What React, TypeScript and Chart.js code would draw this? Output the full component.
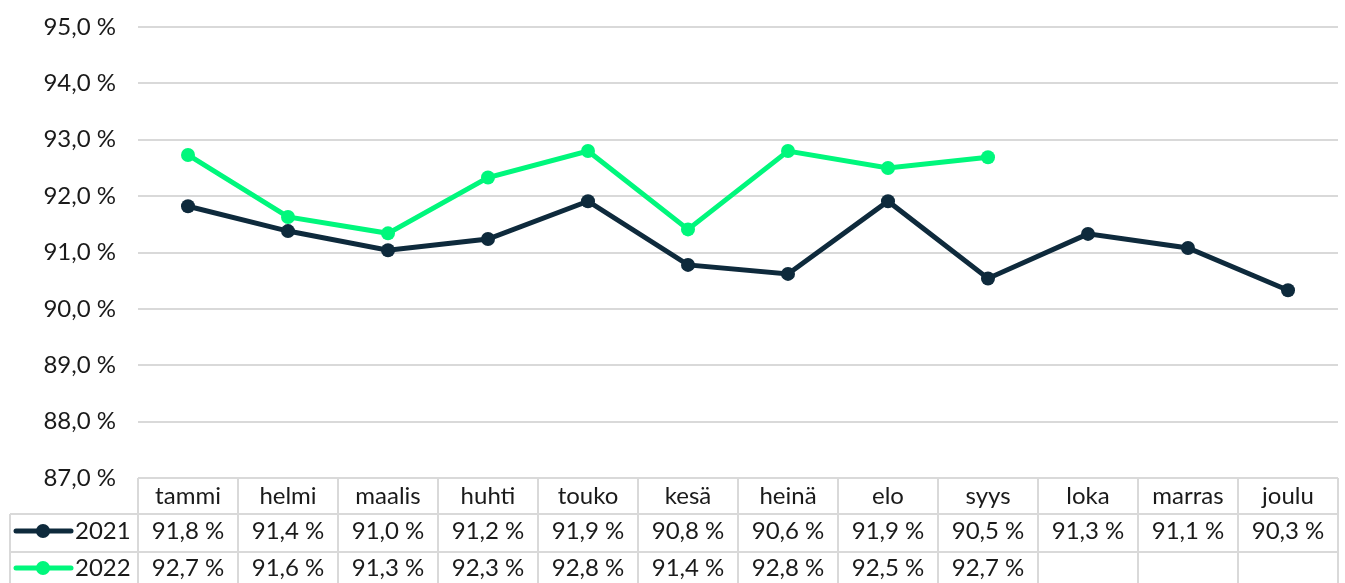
import React, { useEffect, useRef } from "react";
import { Chart, registerables } from "chart.js";
Chart.register(...registerables);

const months = ["tammi", "helmi", "maalis", "huhti", "touko", "kesä", "heinä", "elo", "syys", "loka", "marras", "joulu"];
const values2021 = [91.82, 91.38, 91.04, 91.24, 91.91, 90.78, 90.62, 91.91, 90.54, 91.33, 91.08, 90.33];
const values2022 = [92.73, 91.63, 91.34, 92.33, 92.8, 91.41, 92.8, 92.5, 92.69, null, null, null];
const seriesLabels = ["2021", "2022"];
const yMin = 87;
const yMax = 95;
const yStep = 1;

const COLOR_2021 = "#0e2a3c";
const COLOR_2022 = "#00f77c";
const GRID = "#d9d9d9";
const TEXT = "#1a1a1a";
const FONT = "Lato";
const FONT_SIZE = 24;

const fmt = (v: number) => v.toFixed(1).replace(".", ",") + " %";

const tablePlugin = {
  id: "dataTable",
  afterDraw(chart: any) {
    const ctx = chart.ctx as CanvasRenderingContext2D;
    const area = chart.chartArea;
    const xScale = chart.scales.x;
    const n = months.length;
    const cellW = (area.right - area.left) / n;
    const top = area.bottom;
    const rowH = [36, 38, 38];
    const legendLeft = 10;
    ctx.save();
    ctx.strokeStyle = GRID;
    ctx.lineWidth = 2;
    const y0 = top;
    const y1 = y0 + rowH[0];
    const y2 = y1 + rowH[1];
    const y3 = y2 + rowH[2];
    const line = (ax: number, ay: number, bx: number, by: number) => {
      ctx.beginPath();
      ctx.moveTo(ax, ay);
      ctx.lineTo(bx, by);
      ctx.stroke();
    };
    line(area.left, y0, area.right, y0);
    line(legendLeft, y1, area.right, y1);
    line(legendLeft, y2, area.right, y2);
    line(legendLeft, y3, area.right, y3);
    line(legendLeft, y1, legendLeft, y3);
    for (let i = 0; i <= n; i++) {
      const x = area.left + i * cellW;
      line(x, y0, x, y3);
    }
    ctx.fillStyle = TEXT;
    ctx.font = `${FONT_SIZE}px ${FONT}`;
    ctx.textAlign = "center";
    ctx.textBaseline = "middle";
    const series = [values2021, values2022];
    const rowCy = [(y1 + y2) / 2 - 2, (y2 + y3) / 2 - 3];
    for (let i = 0; i < n; i++) {
      const cx = xScale.getPixelForValue(i);
      ctx.fillText(months[i], cx, (y0 + y1) / 2);
      series.forEach((vals, r) => {
        const v = vals[i];
        if (v !== null && v !== undefined) {
          ctx.fillText(fmt(v as number), cx, rowCy[r]);
        }
      });
    }
    const colors = [COLOR_2021, COLOR_2022];
    seriesLabels.forEach((lab, r) => {
      const cy = rowCy[r];
      ctx.strokeStyle = colors[r];
      ctx.lineWidth = 5;
      ctx.lineCap = "round";
      line(16, cy, 71, cy);
      ctx.fillStyle = colors[r];
      ctx.beginPath();
      ctx.arc(43, cy, 7, 0, Math.PI * 2);
      ctx.fill();
      ctx.fillStyle = TEXT;
      ctx.textAlign = "left";
      ctx.fillText(lab, 75, cy);
    });
    ctx.restore();
  },
};

export default function App() {
  const ref = useRef<HTMLCanvasElement | null>(null);
  useEffect(() => {
    document.body.style.margin = "0";
    if (!ref.current) return;
    const chart = new Chart(ref.current, {
      type: "line",
      data: {
        labels: months,
        datasets: [
          {
            label: seriesLabels[0],
            data: values2021,
            borderColor: COLOR_2021,
            backgroundColor: COLOR_2021,
            borderWidth: 5,
            pointRadius: 7,
            pointHoverRadius: 7,
            pointBorderWidth: 0,
            tension: 0,
          },
          {
            label: seriesLabels[1],
            data: values2022,
            borderColor: COLOR_2022,
            backgroundColor: COLOR_2022,
            borderWidth: 5,
            pointRadius: 7,
            pointHoverRadius: 7,
            pointBorderWidth: 0,
            tension: 0,
          },
        ],
      },
      options: {
        animation: false,
        responsive: true,
        maintainAspectRatio: false,
        layout: { padding: { top: 27, right: 7, left: 0, bottom: 0 } },
        plugins: { legend: { display: false }, tooltip: { enabled: false } },
        scales: {
          x: {
            offset: true,
            ticks: { display: false },
            grid: { display: false },
            border: { display: false },
            afterFit: (s: any) => {
              s.height = 105;
              s.paddingLeft = 0;
              s.paddingRight = 0;
            },
          },
          y: {
            min: yMin,
            max: yMax,
            ticks: {
              stepSize: yStep,
              padding: 22,
              color: TEXT,
              font: { family: FONT, size: FONT_SIZE },
              callback: (v: any) => fmt(Number(v)),
            },
            grid: { color: GRID, lineWidth: 2, drawTicks: false },
            border: { display: false },
            afterFit: (s: any) => {
              s.width = 138;
              s.paddingTop = 0;
              s.paddingBottom = 0;
            },
          },
        },
      },
      plugins: [tablePlugin],
    });
    return () => chart.destroy();
  }, []);
  return (
    <div style={{ position: "fixed", left: 0, top: 0, width: 1345, height: 583 }}>
      <canvas ref={ref} />
    </div>
  );
}
